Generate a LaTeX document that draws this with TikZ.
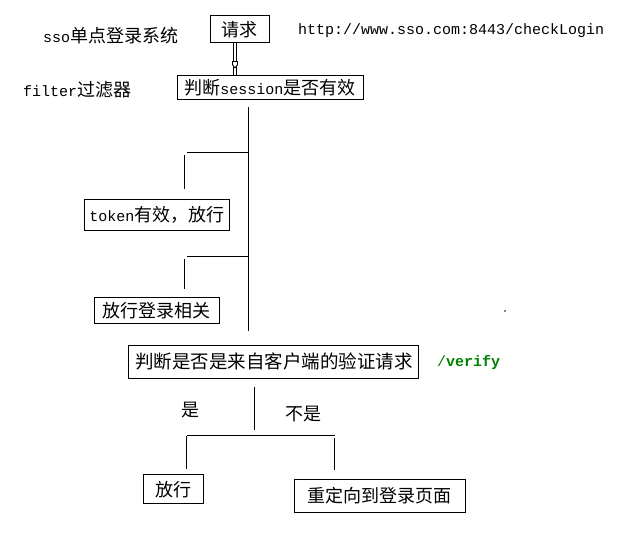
\documentclass[tikz,border=0pt]{standalone}
\usepackage{fontspec}
\newfontfamily\cjk{Noto Sans CJK SC}
\newfontfamily\mono{Liberation Mono}
\newcommand{\lt}[1]{{\mono\fontsize{15}{18}\selectfont #1}}
\definecolor{vgreen}{RGB}{0,128,0}
\begin{document}
\begin{tikzpicture}[x=1pt,y=-1pt,
  box/.style={draw=black,line width=1pt,inner sep=0pt,anchor=center,font=\cjk\fontsize{18}{20}\selectfont},
  lbl/.style={inner sep=0pt,font=\cjk\fontsize{18}{20}\selectfont},
  ln/.style={line width=1.2pt}]
\useasboundingbox (0,0) rectangle (628,532);
% title texts
\node[lbl,anchor=west] (title) at (43,36) {\lt{sso}单点登录系统};
\node[lbl,anchor=west] (filter) at (23,90) {\lt{filter}过滤器};
\node[inner sep=0pt,anchor=west,font=\mono\fontsize{15}{18}\selectfont] (url) at (298,31) {http://www.sso.com:8443/checkLogin};
% boxes
\node[box,minimum width=59pt,minimum height=27pt] (req) at (239.5,29.5) {请求};
\node[box,minimum width=186pt,minimum height=23.5pt] (sess) at (270,87.7) {判断\lt{session}是否有效};
\node[box,minimum width=145pt,minimum height=30.7pt] (token) at (156.8,214.7) {\lt{token}有效，放行};
\node[box,minimum width=125pt,minimum height=26pt] (rel) at (156.8,310.3) {放行登录相关};
\node[box,minimum width=290pt,minimum height=33pt,font=\cjk\fontsize{18.5}{21}\selectfont] (ver) at (273.8,361.5) {判断是否是来自客户端的验证请求};
\node[inner sep=0pt,anchor=west,font=\mono\fontsize{15}{18}\selectfont,text=vgreen] (path) at (437,363) {/\textbf{verify}};
\node[box,minimum width=60pt,minimum height=29pt] (pass) at (173,489.4) {放行};
\node[box,minimum width=171pt,minimum height=33pt] (redir) at (379.5,495.5) {重定向到登录页面};
\node[lbl] (yes) at (190,410) {是};
\node[lbl] (no) at (303,414) {不是};
% double arrow from request to session check
\coordinate (dla) at (233.6,43.5); \coordinate (dlb) at (233.6,75.5);
\coordinate (dra) at (236.4,43.5); \coordinate (drb) at (236.4,75.5);
\draw[line width=0.9pt] (dla) -- (dlb);
\draw[line width=0.9pt] (dra) -- (drb);
\draw[line width=0.8pt,fill=white] (232.6,61.5) -- (237.4,61.5) -- (237.4,65) -- (235,67.8) -- (232.6,65) -- cycle;
% main vertical line and branches
\coordinate (m1) at (248.5,107);
\coordinate (m2) at (248.5,330.7);
\draw[ln] (m1) -- (m2);
\coordinate (h1a) at (187,152.5); \coordinate (h1b) at (249,152.5);
\coordinate (v1a) at (184.5,155); \coordinate (v1b) at (184.5,189);
\draw[ln] (h1a) -- (h1b);
\draw[ln] (v1a) -- (v1b);
\coordinate (h2a) at (187,256.5); \coordinate (h2b) at (249,256.5);
\coordinate (v2a) at (184.5,259); \coordinate (v2b) at (184.5,288.7);
\draw[ln] (h2a) -- (h2b);
\draw[ln] (v2a) -- (v2b);
% lower split
\coordinate (s1) at (254.5,386.6); \coordinate (s2) at (254.5,430);
\draw[ln] (s1) -- (s2);
\coordinate (hl) at (186.5,435.5); \coordinate (hr) at (334.5,435.5);
\draw[ln] (hl) -- (hr);
\coordinate (ll) at (186.5,468.7);
\draw[ln] (hl) -- (ll);
\coordinate (rt) at (334.5,438); \coordinate (rb) at (334.5,470);
\draw[ln] (rt) -- (rb);
% stray dot
\fill (505,311) circle (0.8pt);
\end{tikzpicture}
\end{document}
